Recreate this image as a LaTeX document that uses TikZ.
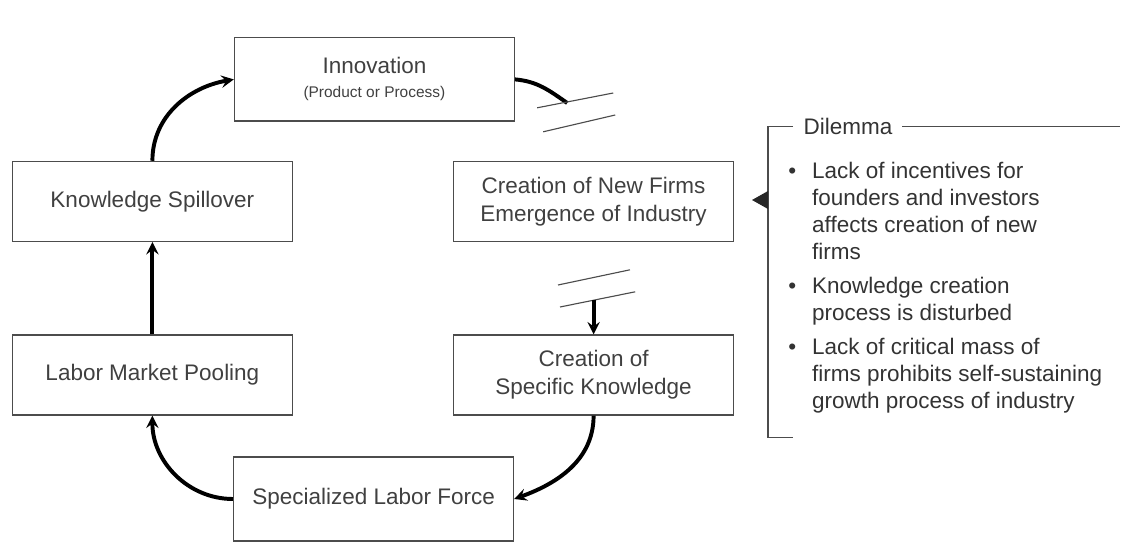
\documentclass[tikz,border=0pt]{standalone}
\usepackage{fontspec}
\setmainfont{Liberation Sans}

\begin{document}
\begin{tikzpicture}[
 box/.style={draw=black!70,line width=0.9pt,minimum width=7cm,minimum height=2cm,align=center,text=black!75,font=\fontsize{16}{20}\selectfont},
 link/.style={line width=2.8pt},
 flow/.style={link,->,>=stealth},
 brk/.style={draw=black!70,line width=0.8pt}
]
 \useasboundingbox (0,0) rectangle (28.15,13.875); %全体の大きさ

 \node[box,minimum height=2.08cm] (inno) at (9.36,11.89) {Innovation\\[-3pt]{\fontsize{11}{13}\selectfont(Product or Process)}}; %上
 \node[box] (spill) at (3.81,8.84) {Knowledge Spillover}; %左上
 \node[box] (pool) at (3.81,4.50) {Labor Market Pooling}; %左下
 \node[box] (firms) at (14.84,8.84) {Creation of New Firms\\Emergence of Industry}; %右上
 \node[box] (spec) at (14.84,4.50) {Creation of\\Specific Knowledge}; %右下
 \node[box,minimum height=2.1cm] (labor) at (9.34,1.40) {Specialized Labor Force}; %下

 \coordinate (brk1) at (14.18,11.30); %途切れ1
 \coordinate (brk2) at (14.84,6.38); %途切れ2
 \draw[link] (inno.east) to[out=-5,in=145] (brk1);
 \draw[brk] (13.43,11.18)--(15.33,11.55);
 \draw[brk] (13.58,10.58)--(15.38,11.00);
 \draw[brk] (13.95,6.75)--(15.75,7.13);
 \draw[brk] (14.00,6.20)--(15.88,6.58);
 \draw[flow] (brk2)--(spec.north);
 \draw[flow] (spec.south) to[out=-90,in=20] (labor.east);
 \draw[flow] (labor.west) to[out=180,in=-90] (pool.south);
 \draw[flow] (pool.north)--(spill.south);
 \draw[flow] (spill.north) to[out=90,in=190] (inno.west);

 \draw[line width=0.9pt,black!70] (19.83,10.72)--(19.2,10.72)--(19.2,2.93)--(19.83,2.93); %かっこ
 \node[anchor=west,inner sep=1pt,text=black!80,font=\fontsize{16}{19}\selectfont] (dil) at (20.05,10.72) {Dilemma};
 \coordinate (dilend) at (28.0,10.72);
 \draw[line width=0.9pt,black!70] (dil.east)++(0.2,0)--(dilend);
 \fill[black!85] (18.8,8.875)--(19.2,9.1)--(19.2,8.65)--cycle; %矢印の先
 \node[anchor=north west,inner sep=0pt,text=black!80,font=\fontsize{16}{19.2}\selectfont] (items) at (19.7,9.9) {%
  \begin{tabular}{@{}l@{\hspace{0.4cm}}l@{}}
   \textbullet & Lack of incentives for\\
   & founders and investors\\
   & affects creation of new\\
   & firms\\[5pt]
   \textbullet & Knowledge creation\\
   & process is disturbed\\[5pt]
   \textbullet & Lack of critical mass of\\
   & firms prohibits self-sustaining\\
   & growth process of industry
  \end{tabular}};
\end{tikzpicture}
\end{document}
